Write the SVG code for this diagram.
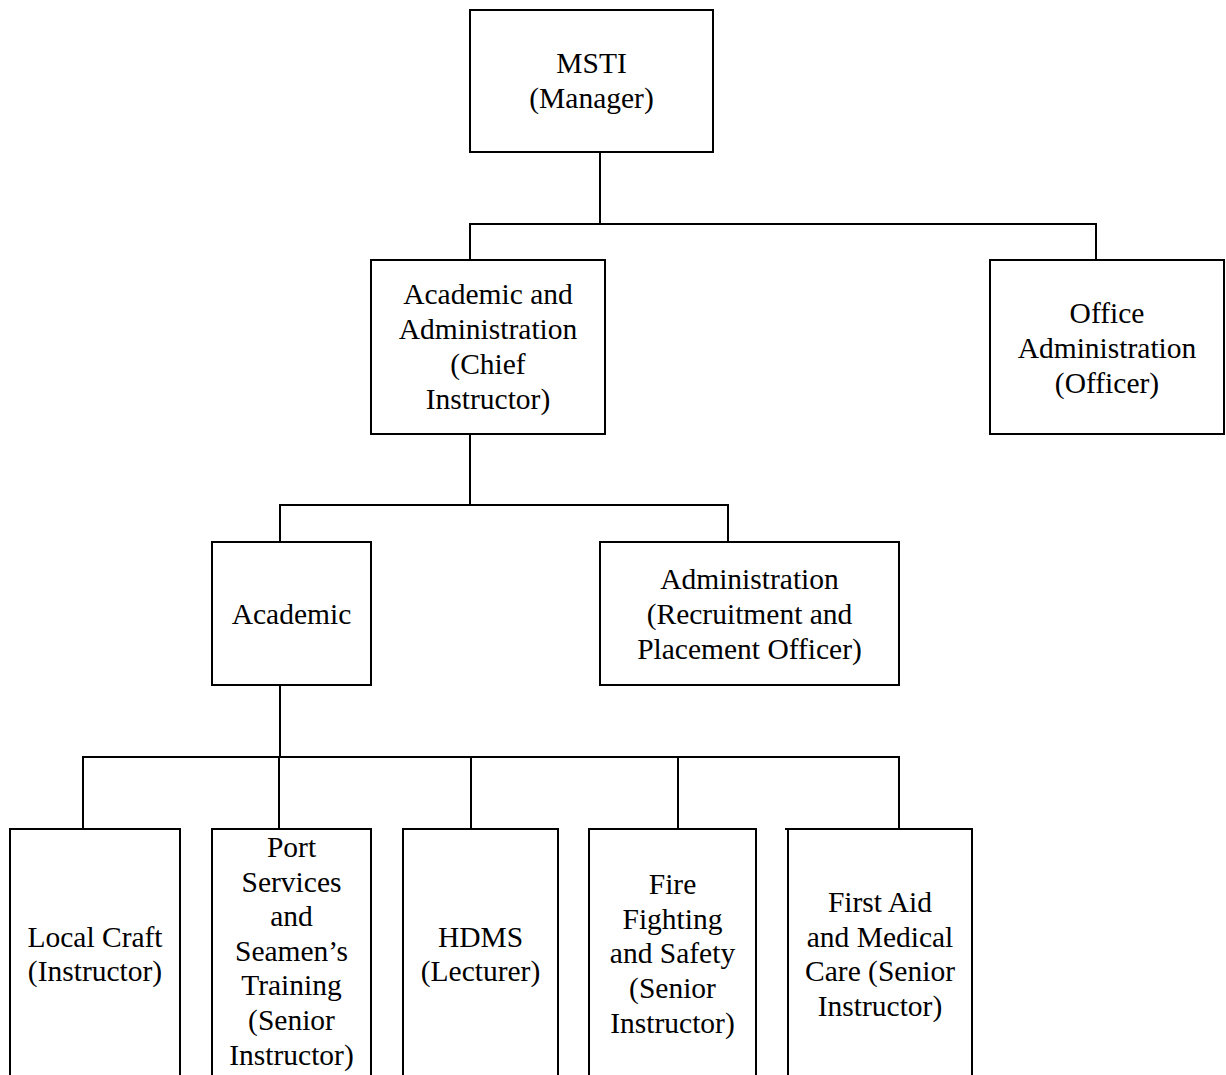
<svg xmlns="http://www.w3.org/2000/svg" width="1226" height="1075" viewBox="0 0 1226 1075">
<style>
.box{fill:#fff;stroke:#000;stroke-width:2}
.open{fill:none;stroke:#000;stroke-width:2}
.c{fill:none;stroke:#000;stroke-width:2}
text{font-size:29.5px;fill:#000;text-anchor:middle}
</style>
<rect width="1226" height="1075" fill="#fff"/>
<g id="connectors">
<path class="c" d="M600,152 V224 M470,260 V224 H1096 V260"/>
<path class="c" d="M470,434 V505 M280,542 V505 H728 V542"/>
<path class="c" d="M280,685 V757 M83,829 V757 H899 V829 M279,757 V829 M471,757 V829 M678,757 V829"/>
</g>
<g font-family="'Liberation Serif', 'Times New Roman', Tinos, 'DejaVu Serif', serif">
<g id="n-msti">
<rect class="box" x="470" y="10" width="243" height="142"/>
<text x="591.5" y="73">MSTI</text>
<text x="591.5" y="108">(Manager)</text>
</g>
<g id="n-acadadmin">
<rect class="box" x="371" y="260" width="234" height="174"/>
<text x="488" y="304">Academic and</text>
<text x="488" y="339">Administration</text>
<text x="488" y="374">(Chief</text>
<text x="488" y="409">Instructor)</text>
</g>
<g id="n-office">
<rect class="box" x="990" y="260" width="234" height="174"/>
<text x="1107" y="323">Office</text>
<text x="1107" y="358">Administration</text>
<text x="1107" y="393">(Officer)</text>
</g>
<g id="n-academic">
<rect class="box" x="212" y="542" width="159" height="143"/>
<text x="291.5" y="624">Academic</text>
</g>
<g id="n-admin">
<rect class="box" x="600" y="542" width="299" height="143"/>
<text x="749.5" y="589">Administration</text>
<text x="749.5" y="624">(Recruitment and</text>
<text x="749.5" y="659">Placement Officer)</text>
</g>
<g id="n-localcraft">
<path class="open" d="M10,1076 V829 H180 V1076"/>
<text x="95" y="947">Local Craft</text>
<text x="95" y="981">(Instructor)</text>
</g>
<g id="n-port">
<path class="open" d="M212,1076 V829 H371 V1076"/>
<text x="291.5" y="857">Port</text>
<text x="291.5" y="892">Services</text>
<text x="291.5" y="926">and</text>
<text x="291.5" y="961">Seamen’s</text>
<text x="291.5" y="995">Training</text>
<text x="291.5" y="1030">(Senior</text>
<text x="291.5" y="1065">Instructor)</text>
</g>
<g id="n-hdms">
<path class="open" d="M403,1076 V829 H558 V1076"/>
<text x="480.5" y="947">HDMS</text>
<text x="480.5" y="981">(Lecturer)</text>
</g>
<g id="n-fire">
<path class="open" d="M589,1076 V829 H756 V1076"/>
<text x="672.5" y="894">Fire</text>
<text x="672.5" y="929">Fighting</text>
<text x="672.5" y="963">and Safety</text>
<text x="672.5" y="998">(Senior</text>
<text x="672.5" y="1033">Instructor)</text>
</g>
<g id="n-firstaid">
<path class="open" d="M788,1076 V829 M785,829 H973 M972,829 V1076"/>
<text x="880" y="912">First Aid</text>
<text x="880" y="947">and Medical</text>
<text x="880" y="981">Care (Senior</text>
<text x="880" y="1016">Instructor)</text>
</g>
</g>
</svg>
